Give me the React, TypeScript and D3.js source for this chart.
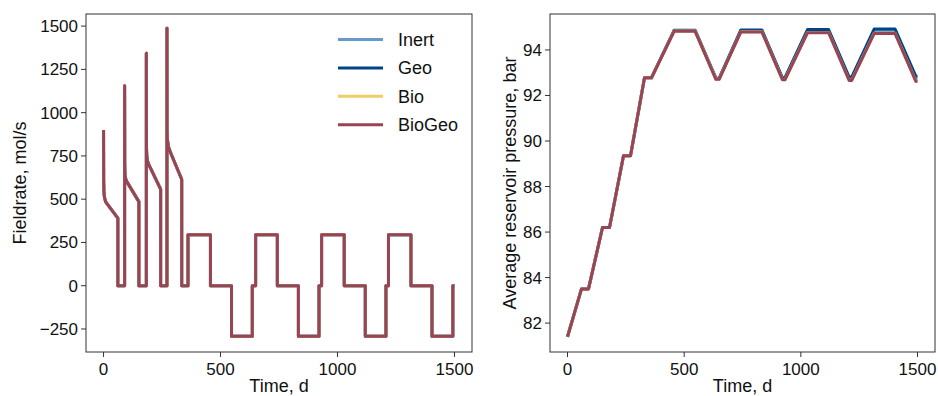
import React from "react";
import * as d3 from "d3";

// ---------- DATA ----------
const seriesNames = ["Inert", "Geo", "Bio", "BioGeo"];
const seriesColors = ["#6699CC", "#004488", "#EECC66", "#994455"];

// Field rate (mol/s) vs time (d) — all four cases coincide
const rateTime = [
  0, 0.5, 1.5, 4, 9, 61, 61, 90,
  90, 90.5, 91.5, 95, 100, 151, 151, 183,
  183, 183.5, 184.5, 188, 194, 244, 244, 271,
  271, 271.5, 272.5, 277, 286, 334, 334, 361,
  361, 457, 457, 547, 547, 636, 636, 650,
  650, 743, 743, 833, 833, 921, 921, 932,
  932, 1029, 1029, 1119, 1119, 1207, 1207, 1218,
  1218, 1314, 1314, 1404, 1404, 1493, 1493, 1500,
];
const rateInert = [
  900, 600, 545, 510, 485, 390, 0, 0,
  1155, 700, 645, 615, 600, 486, 0, 0,
  1343, 800, 755, 720, 698, 558, 0, 0,
  1487, 900, 850, 805, 770, 615, 0, 0,
  295, 295, 0, 0, -292, -292, 0, 0,
  295, 295, 0, 0, -292, -292, 0, 0,
  295, 295, 0, 0, -292, -292, 0, 0,
  295, 295, 0, 0, -292, -292, 0, 0,
];
const rateGeo = rateInert;
const rateBio = rateInert;
const rateBioGeo = rateInert;

// Average reservoir pressure (bar) vs time (d)
const pressTime = [
  0, 60, 90, 150, 180, 240, 270, 330, 360, 457, 547, 636, 650,
  743, 833, 921, 932, 1029, 1119, 1207, 1218, 1314, 1404, 1493, 1500,
];
const pressInert = [
  81.4, 83.5, 83.5, 86.2, 86.2, 89.35, 89.35, 92.78, 92.78, 94.85, 94.85, 92.74, 92.74,
  94.84, 94.84, 92.74, 92.74, 94.83, 94.83, 92.73, 92.73, 94.82, 94.82, 92.72, 92.72,
];
const pressGeo = [
  81.4, 83.5, 83.5, 86.2, 86.2, 89.35, 89.35, 92.78, 92.78, 94.87, 94.87, 92.76, 92.76,
  94.88, 94.88, 92.78, 92.78, 94.9, 94.9, 92.81, 92.81, 94.92, 94.92, 92.84, 92.84,
];
const pressBio = [
  81.4, 83.5, 83.5, 86.2, 86.2, 89.35, 89.35, 92.78, 92.78, 94.83, 94.83, 92.72, 92.72,
  94.8, 94.8, 92.7, 92.7, 94.77, 94.77, 92.67, 92.67, 94.73, 94.73, 92.63, 92.63,
];
const pressBioGeo = [
  81.4, 83.5, 83.5, 86.2, 86.2, 89.35, 89.35, 92.78, 92.78, 94.82, 94.82, 92.71, 92.71,
  94.79, 94.79, 92.69, 92.69, 94.76, 94.76, 92.66, 92.66, 94.72, 94.72, 92.62, 92.62,
];

const timeTicks = [0, 500, 1000, 1500];
const rateTicks = [-250, 0, 250, 500, 750, 1000, 1250, 1500];
const pressTicks = [82, 84, 86, 88, 90, 92, 94];

// ---------- LAYOUT ----------
const W = 938;
const H = 396;
const FONT = "'Liberation Sans', 'DejaVu Sans', sans-serif";

type Panel = {
  x0: number; x1: number; y0: number; y1: number;
  xDomain: [number, number]; yDomain: [number, number];
};
const left: Panel = { x0: 86, x1: 472, y0: 14, y1: 352, xDomain: [-75, 1575], yDomain: [-383, 1570] };
const right: Panel = { x0: 550, x1: 935, y0: 14, y1: 352, xDomain: [-75, 1575], yDomain: [80.73, 95.58] };

function fmt(v: number) {
  return v < 0 ? "\u2212" + Math.abs(v) : String(v);
}

function Axes({ p, time, ys, yTicks, yLabel, yLabelX, legend }: {
  p: Panel; time: number[]; ys: number[][]; yTicks: number[]; yLabel: string; yLabelX: number; legend?: boolean;
}) {
  const x = d3.scaleLinear().domain(p.xDomain).range([p.x0, p.x1]);
  const y = d3.scaleLinear().domain(p.yDomain).range([p.y1, p.y0]);
  const line = d3.line<number>().x((_, i) => x(time[i])).y((d) => y(d));
  const cy = (p.y0 + p.y1) / 2;
  return (
    <g>
      <defs>
        <clipPath id={`clip${p.x0}`}>
          <rect x={p.x0} y={p.y0} width={p.x1 - p.x0} height={p.y1 - p.y0} />
        </clipPath>
      </defs>
      <g clipPath={`url(#clip${p.x0})`}>
        {ys.map((vals, k) => (
          <path key={k} d={line(vals) || ""} fill="none" stroke={seriesColors[k]} strokeWidth={3}
            strokeLinejoin="round" strokeLinecap="butt" />
        ))}
      </g>
      <rect x={p.x0} y={p.y0} width={p.x1 - p.x0} height={p.y1 - p.y0} fill="none" stroke="#333" strokeWidth={1} />
      {timeTicks.map((t) => (
        <g key={t}>
          <line x1={x(t)} x2={x(t)} y1={p.y1} y2={p.y1 + 5} stroke="#333" />
          <text x={x(t)} y={p.y1 + 23} textAnchor="middle" fontSize={17} fontFamily={FONT} fill="#111">{t}</text>
        </g>
      ))}
      {yTicks.map((v) => (
        <g key={v}>
          <line x1={p.x0 - 5} x2={p.x0} y1={y(v)} y2={y(v)} stroke="#333" />
          <text x={p.x0 - 8} y={y(v) + 6} textAnchor="end" fontSize={17} fontFamily={FONT} fill="#111">{fmt(v)}</text>
        </g>
      ))}
      <text x={(p.x0 + p.x1) / 2} y={p.y1 + 40} textAnchor="middle" fontSize={18} fontFamily={FONT} fill="#111">Time, d</text>
      <text transform={`translate(${yLabelX},${cy}) rotate(-90)`} textAnchor="middle" fontSize={18} fontFamily={FONT} fill="#111">{yLabel}</text>
      {legend && seriesNames.map((n, k) => (
        <g key={n}>
          <line x1={338} x2={383} y1={39.5 + k * 28.4} y2={39.5 + k * 28.4} stroke={seriesColors[k]} strokeWidth={3} />
          <text x={398} y={39.5 + k * 28.4 + 6.5} fontSize={18} fontFamily={FONT} fill="#111">{n}</text>
        </g>
      ))}
    </g>
  );
}

export default function App() {
  return (
    <svg width={W} height={H} style={{ position: "absolute", left: 0, top: 0, background: "#fff" }}>
      <rect width={W} height={H} fill="#fff" />
      <Axes p={left} time={rateTime} ys={[rateInert, rateGeo, rateBio, rateBioGeo]} yTicks={rateTicks}
        yLabel="Fieldrate, mol/s" yLabelX={26} legend />
      <Axes p={right} time={pressTime} ys={[pressInert, pressGeo, pressBio, pressBioGeo]} yTicks={pressTicks}
        yLabel="Average reservoir pressure, bar" yLabelX={516} />
    </svg>
  );
}
